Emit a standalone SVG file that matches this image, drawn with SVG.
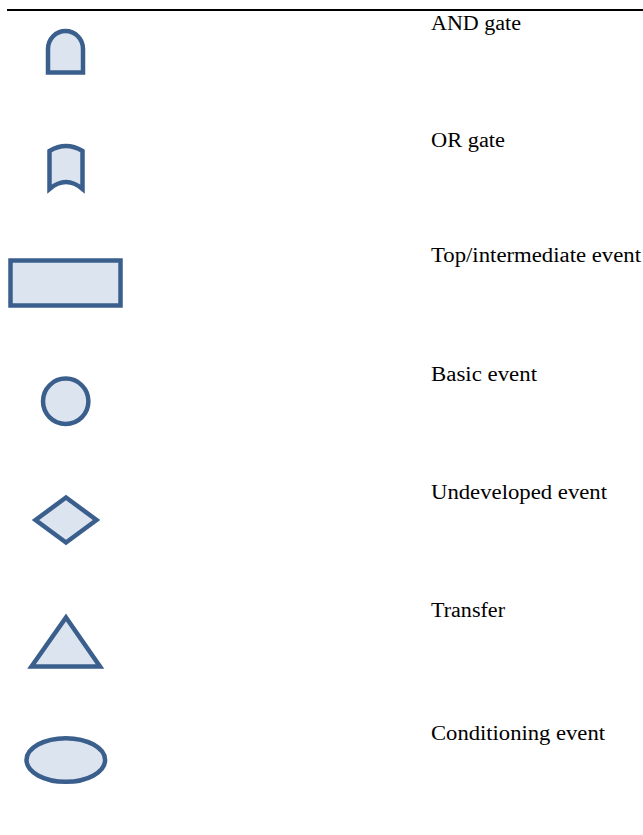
<svg xmlns="http://www.w3.org/2000/svg" width="643" height="835" viewBox="0 0 643 835">
<style>
.sym{fill:#dce4f0;stroke:#3b5f8d;stroke-width:4.5;stroke-linejoin:miter}
text{font-family:'Liberation Serif','Times New Roman','DejaVu Serif',serif;font-size:20px;fill:#000}
</style>
<rect width="643" height="835" fill="#fff"/>
<line x1="7" y1="10" x2="643" y2="10" stroke="#000" stroke-width="2"/>
<g id="and-gate">
<path class="sym" d="M48,72.5 V49 A17.5,18 0 0 1 83,49 V72.5 Z"/>
<text font-family="Liberation Serif, serif" x="431" y="29.5" textLength="90" lengthAdjust="spacingAndGlyphs">AND gate</text>
</g>
<g id="or-gate">
<path class="sym" d="M49.5,189 V151 Q66,141 82.5,151 V189 Q66,175 49.5,189 Z"/>
<text font-family="Liberation Serif, serif" x="431" y="146.7" textLength="74" lengthAdjust="spacingAndGlyphs">OR gate</text>
</g>
<g id="top-event">
<rect class="sym" x="10.5" y="260.5" width="110" height="45"/>
<text font-family="Liberation Serif, serif" x="431" y="261.7" textLength="210" lengthAdjust="spacingAndGlyphs">Top/intermediate event</text>
</g>
<g id="basic-event">
<circle class="sym" cx="65.7" cy="401.3" r="22.7"/>
<text font-family="Liberation Serif, serif" x="431" y="380.7" textLength="106" lengthAdjust="spacingAndGlyphs">Basic event</text>
</g>
<g id="undeveloped-event">
<polygon class="sym" points="35.5,520 66,497.5 96.5,520 66,542.5"/>
<text font-family="Liberation Serif, serif" x="431" y="498.5" textLength="176" lengthAdjust="spacingAndGlyphs">Undeveloped event</text>
</g>
<g id="transfer">
<polygon class="sym" points="66,617.5 100,666.5 31.5,666.5"/>
<text font-family="Liberation Serif, serif" x="431" y="616.7" textLength="74" lengthAdjust="spacingAndGlyphs">Transfer</text>
</g>
<g id="conditioning-event">
<ellipse class="sym" cx="65.8" cy="760" rx="39.3" ry="21.8"/>
<text font-family="Liberation Serif, serif" x="431" y="739.5" textLength="174" lengthAdjust="spacingAndGlyphs">Conditioning event</text>
</g>
<g id="connectors"></g>
</svg>
